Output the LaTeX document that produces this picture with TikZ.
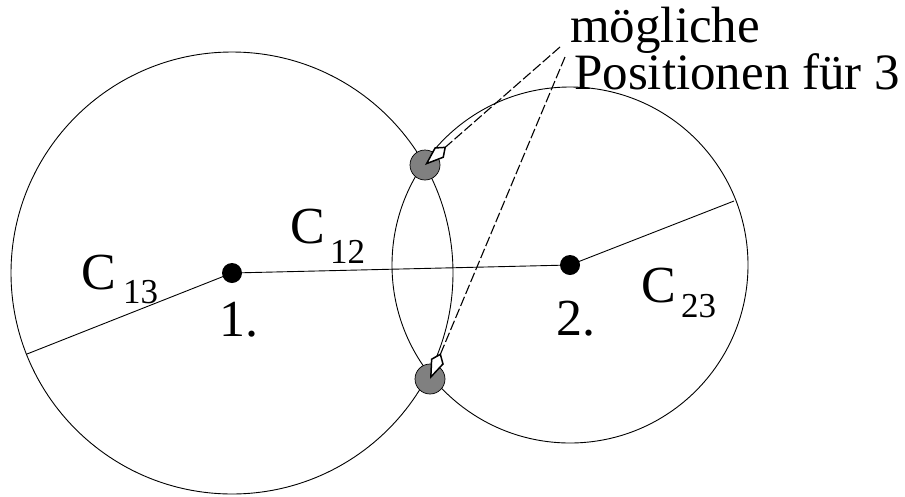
\documentclass[tikz,border=0pt]{standalone}
\usepackage{fontspec}
\setmainfont{Liberation Serif}
\usetikzlibrary{arrows.meta}
\begin{document}
\begin{tikzpicture}[x=1pt,y=-1pt,
  lbl/.style={inner sep=0pt, anchor=base west, font=\fontsize{52}{52}\selectfont},
  toplbl/.style={inner sep=0pt, anchor=base west, font=\fontsize{51}{51}\selectfont},
  sublbl/.style={inner sep=0pt, anchor=base west, font=\fontsize{35}{35}\selectfont},
  ctr/.style={circle, fill=black, inner sep=0pt, minimum size=20pt},
  posdot/.style={circle, fill=gray, draw=black, line width=0.7pt, inner sep=0pt, minimum size=30pt},
  ring/.style={line width=0.9pt},
  radius line/.style={line width=0.9pt},
  ptr/.style={line width=1.1pt, dash pattern=on 10pt off 3pt,
    -{Kite[length=28pt, width=14pt, inset=9pt, fill=white, line width=1.5pt]}}]
\useasboundingbox (0,0) rectangle (905,496);
% centres and ends
\coordinate (m1) at (232,273);
\coordinate (m2) at (570,265);
\coordinate (e13) at (27,354);
\coordinate (e23) at (734,201);
% circles
\draw[ring] (m1) circle [radius=221pt];
\draw[ring] (m2) circle [radius=178pt];
% radius lines
\draw[radius line] (e13) -- (m1) -- (m2) -- (e23);
% centre dots
\node[ctr] (p1) at (m1) {};
\node[ctr] (p2) at (m2) {};
% possible positions
\node[posdot] (q1) at (425,165) {};
\node[posdot] (q2) at (430,379) {};
% labels
\node[lbl] (l13) at (81,289) {C};
\node[sublbl] (s13) at (123,303) {13};
\node[lbl] (l12) at (290,243) {C};
\node[sublbl] (s12) at (330,263) {12};
\node[lbl] (l23) at (641,302) {C};
\node[sublbl] (s23) at (681,317) {23};
\node[lbl] (n1) at (219,336) {1.};
\node[lbl] (n2) at (556,335) {2.};
\node[toplbl] (t1) at (570,42) {mögliche};
\node[toplbl] (t2) at (574,89) {Positionen für 3};
% pointers
\coordinate (a1) at (560,47);
\coordinate (a2) at (565,57);
\draw[ptr] (a1) -- (q1.center);
\draw[ptr] (a2) -- (q2.center);
\end{tikzpicture}
\end{document}
